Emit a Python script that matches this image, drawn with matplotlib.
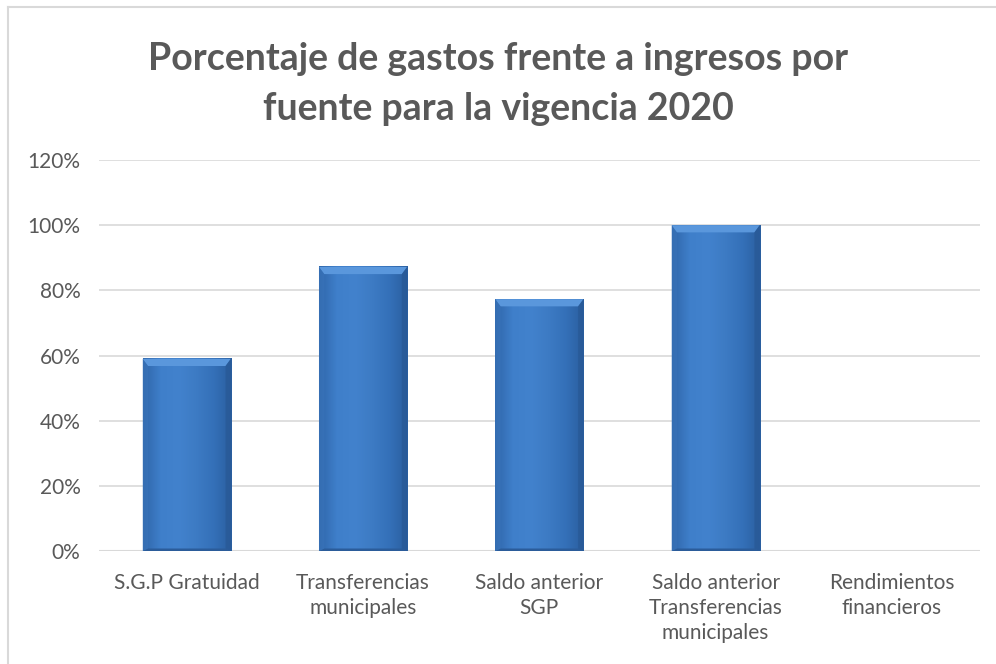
import numpy as np
import matplotlib.pyplot as plt
from matplotlib.colors import LinearSegmentedColormap
from matplotlib.patches import Polygon
from matplotlib.lines import Line2D

categorias = ['S.G.P Gratuidad', 'Transferencias\nmunicipales', 'Saldo anterior\nSGP',
              'Saldo anterior\nTransferencias\nmunicipales', 'Rendimientos\nfinancieros']
porcentajes = [0.59, 0.872, 0.773, 1.0, 0.0]
yticks = [0, 0.2, 0.4, 0.6, 0.8, 1.0, 1.2]
titulo = 'Porcentaje de gastos frente a ingresos por\nfuente para la vigencia 2020'

plt.rcParams['font.family'] = ['Lato', 'DejaVu Sans']
gris = '#595959'

fig = plt.figure(figsize=(9.96, 6.64), dpi=100)
ax = fig.add_axes([0.099, 0.17, 0.885, 0.589])

x = np.arange(len(categorias))
barras = ax.bar(x, porcentajes, width=0.5, color='#3b78c2', zorder=2)

# relleno tipo bisel de Excel
cmap = LinearSegmentedColormap.from_list('bisel', ['#2f66aa', '#3f7fca', '#4282cd', '#3d7bc4', '#3470b8', '#2a5e9f'])
grad = np.linspace(0, 1, 200).reshape(1, -1)
for b in barras:
    h = b.get_height()
    if h <= 0:
        b.set_visible(False)
        continue
    x0, w = b.get_x(), b.get_width()
    ax.imshow(grad, extent=(x0, x0 + w, 0, h), aspect='auto', cmap=cmap, zorder=3)
    dx = w * 0.06
    dy = 0.022
    ax.add_patch(Polygon([(x0, h), (x0 + w, h), (x0 + w - dx, h - dy), (x0 + dx, h - dy)],
                         closed=True, facecolor='#5a97dc', edgecolor='none', zorder=4))
    ax.add_patch(Polygon([(x0, 0), (x0 + w, 0), (x0 + w - dx, 0.008), (x0 + dx, 0.008)],
                         closed=True, facecolor='#2b5c9a', edgecolor='none', zorder=4))
    ax.add_patch(Polygon([(x0 + w, h), (x0 + w, 0), (x0 + w - dx, 0.008), (x0 + w - dx, h - dy)],
                         closed=True, facecolor='#285793', edgecolor='none', alpha=0.6, zorder=4))
    ax.add_patch(Polygon([(x0, h), (x0, 0), (x0 + dx, 0.008), (x0 + dx, h - dy)],
                         closed=True, facecolor='#3a74ba', edgecolor='none', alpha=0.6, zorder=4))

ax.set_xlim(-0.5, len(categorias) - 0.5)
ax.set_ylim(0, 1.2)
ax.set_yticks(yticks)
ax.set_yticklabels([f'{int(round(t * 100))}%' for t in yticks])
ax.set_xticks(x)
ax.set_xticklabels(categorias, linespacing=1.3)
ax.tick_params(axis='both', length=0, labelsize=15, colors=gris)
ax.tick_params(axis='y', pad=13)
ax.tick_params(axis='x', pad=16)
ax.grid(axis='y', color='#d9d9d9', linewidth=1.2, zorder=0)
for s in ax.spines.values():
    s.set_visible(False)
ax.axhline(0, color='#d9d9d9', linewidth=1.5, zorder=1)

fig.text(0.5, 0.874, titulo, ha='center', va='center', fontsize=27, fontweight='bold',
         color=gris, linespacing=1.58)

# borde del gráfico
fig.add_artist(Line2D([0.0085, 0.0085], [0, 0.9895], color='#d9d9d9', linewidth=1.5, transform=fig.transFigure))
fig.add_artist(Line2D([0.0085, 1], [0.9895, 0.9895], color='#d9d9d9', linewidth=1.5, transform=fig.transFigure))

fig.savefig('out.png', dpi=100)
